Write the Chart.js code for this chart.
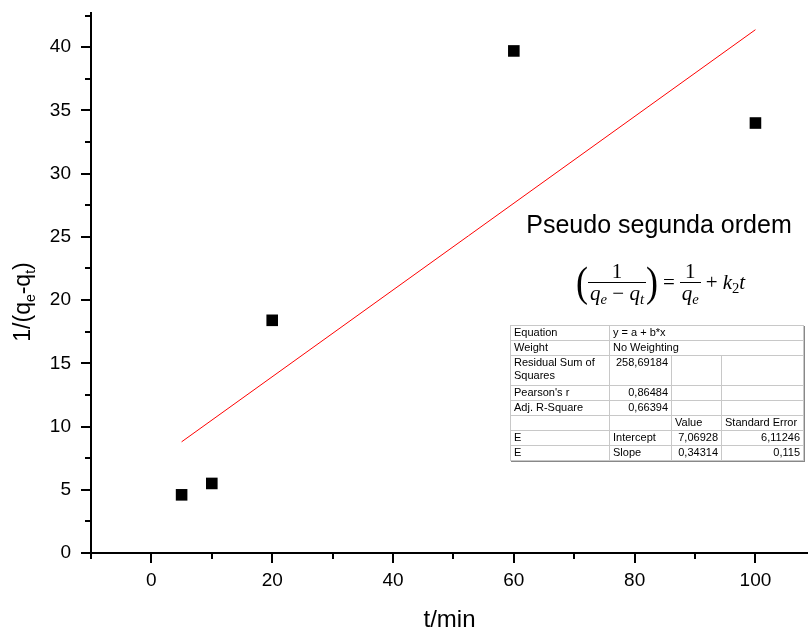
<!DOCTYPE html>
<html>
<head>
<meta charset="utf-8">
<script src="https://cdn.jsdelivr.net/npm/chart.js@4.4.0/dist/chart.umd.min.js"></script>
<style>
body { margin: 0; background: #fff; }
#wrap { position: relative; width: 808px; height: 632px; }
#fitTitle {
    position: absolute; left: 510px; top: 212px; width: 298px;
    text-align: center; white-space: nowrap;
    font: 25px Arial, "Liberation Sans", sans-serif; line-height: 25px;
}
#formula {
    position: absolute; left: 576px; top: 259px; height: 46px;
    display: flex; align-items: center; white-space: nowrap;
    font-family: "Liberation Serif", serif; font-size: 21px;
}
#formula .paren { font-size: 36px; transform: scaleY(1.15); line-height: 40px; }
#formula .frac { display: inline-flex; flex-direction: column; text-align: center; line-height: 21px; }
#formula .den { border-top: 1.6px solid #000; padding: 0 2px; }
#formula .op { margin: 0 5px; }
#formula sub { font-size: 0.7em; vertical-align: -0.3em; font-style: italic; line-height: 0; }
#fitTable {
    position: absolute; left: 510px; top: 325px; width: 293px;
    border-collapse: collapse; table-layout: fixed;
    font: 11px Arial, "Liberation Sans", sans-serif;
    border: 1px solid #444; box-shadow: 1px 1px 0 #888;
}
#fitTable td {
    border: 1px solid #c8c8c8; padding: 0 3px; height: 14px; line-height: 13px;
    vertical-align: top; overflow: hidden; white-space: nowrap;
}
#fitTable td.wrap { white-space: normal; }
#fitTable td.n { text-align: right; }
#fitTable tr.tall td { height: 29px; }
</style>
</head>
<body>
<div id="wrap">
<canvas id="chart" width="808" height="632"></canvas>
<div id="fitTitle">Pseudo segunda ordem</div>
<div id="formula">
  <span class="paren">(</span>
  <span class="frac"><span>1</span><span class="den"><i>q</i><sub>e</sub> − <i>q</i><sub>t</sub></span></span>
  <span class="paren">)</span>
  <span class="op">=</span>
  <span class="frac"><span>1</span><span class="den"><i>q</i><sub>e</sub></span></span>
  <span class="op">+</span>
  <span><i>k</i><sub style="font-style:normal">2</sub><i>t</i></span>
</div>
<table id="fitTable">
  <colgroup><col style="width:99px"><col style="width:62px"><col style="width:50px"><col style="width:82px"></colgroup>
  <tr><td>Equation</td><td colspan="3">y = a + b*x</td></tr>
  <tr><td>Weight</td><td colspan="3">No Weighting</td></tr>
  <tr class="tall"><td class="wrap">Residual Sum of Squares</td><td class="n">258,69184</td><td></td><td></td></tr>
  <tr><td>Pearson's r</td><td class="n">0,86484</td><td></td><td></td></tr>
  <tr><td>Adj. R-Square</td><td class="n">0,66394</td><td></td><td></td></tr>
  <tr><td></td><td></td><td>Value</td><td>Standard Error</td></tr>
  <tr><td>E</td><td>Intercept</td><td class="n">7,06928</td><td class="n">6,11246</td></tr>
  <tr><td>E</td><td>Slope</td><td class="n">0,34314</td><td class="n">0,115</td></tr>
</table>
</div>
<script>
// measured points
const pointsX = [5, 10, 20, 60, 100];
const pointsY = [4.6, 5.5, 18.4, 39.7, 34.0];

// linear fit line ends (a = 7.06928, b = 0.34314)
const fitX = [5, 100];
const fitY = [8.79, 41.38];

const xTicks = [0, 20, 40, 60, 80, 100];
const xMinorTicks = [-10, 10, 30, 50, 70, 90];
const yTicks = [0, 5, 10, 15, 20, 25, 30, 35, 40];
const yMinorTicks = [2.5, 7.5, 12.5, 17.5, 22.5, 27.5, 32.5, 37.5, 42.5];

const sans = 'Arial, "Liberation Sans", sans-serif';

function main() {
    buildChart();
}

// tick marks (major / minor) and the y title with subscripts
const axisExtras = {
    id: 'axisExtras',
    afterDraw(chart) {
        const ctx = chart.ctx;
        const xs = chart.scales.x, ys = chart.scales.y;
        const area = chart.chartArea;
        ctx.save();
        ctx.strokeStyle = '#000';
        ctx.lineWidth = 2;
        ctx.beginPath();
        xTicks.forEach(v => {
            let px = Math.round(xs.getPixelForValue(v));
            ctx.moveTo(px, area.bottom);
            ctx.lineTo(px, area.bottom + 10);
        });
        xMinorTicks.forEach(v => {
            let px = Math.round(xs.getPixelForValue(v));
            ctx.moveTo(px, area.bottom);
            ctx.lineTo(px, area.bottom + 6);
        });
        yTicks.forEach(v => {
            let py = Math.round(ys.getPixelForValue(v));
            ctx.moveTo(area.left, py);
            ctx.lineTo(area.left - 10, py);
        });
        yMinorTicks.forEach(v => {
            let py = Math.round(ys.getPixelForValue(v));
            ctx.moveTo(area.left, py);
            ctx.lineTo(area.left - 6, py);
        });
        ctx.stroke();

        // y axis title 1/(qe-qt)
        let parts = [['1/(q', false], ['e', true], ['-q', false], ['t', true], [')', false]];
        let big = '23px ' + sans, small = '14px ' + sans;
        let total = 0;
        parts.forEach(p => {
            ctx.font = p[1] ? small : big;
            total += ctx.measureText(p[0]).width;
        });
        ctx.translate(30, (area.top + area.bottom) / 2 + 19);
        ctx.rotate(-Math.PI / 2);
        ctx.fillStyle = '#000';
        ctx.textBaseline = 'alphabetic';
        let pos = -total / 2;
        parts.forEach(p => {
            ctx.font = p[1] ? small : big;
            ctx.fillText(p[0], pos, p[1] ? 5 : 0);
            pos += ctx.measureText(p[0]).width;
        });
        ctx.restore();
    }
};

function buildChart() {
    let points = pointsX.map((x, i) => ({ x: x, y: pointsY[i] }));
    let fit = fitX.map((x, i) => ({ x: x, y: fitY[i] }));

    var ctx = document.getElementById('chart').getContext('2d');
    var chart = new Chart(ctx, {
        type: 'scatter',
        data: {
            datasets: [{
                type: 'line',
                data: fit,
                borderColor: '#ff0000',
                borderWidth: 1,
                pointRadius: 0,
                fill: false
            }, {
                data: points,
                pointStyle: 'rect',
                pointRadius: 8.2,
                backgroundColor: '#000',
                borderWidth: 0
            }]
        },
        options: {
            responsive: false,
            animation: false,
            layout: { autoPadding: false, padding: { top: 13, right: 0, left: 0, bottom: 0 } },
            plugins: {
                legend: { display: false },
                tooltip: { enabled: false }
            },
            scales: {
                x: {
                    type: 'linear',
                    min: -10,
                    max: 108.7,
                    afterBuildTicks: s => { s.ticks = xTicks.map(v => ({ value: v })); },
                    afterFit: s => { s.height = 79; s.paddingLeft = 0; s.paddingRight = 0; },
                    grid: { drawOnChartArea: false, drawTicks: true, tickLength: 10, color: 'rgba(0,0,0,0)' },
                    border: { display: true, color: '#000', width: 2 },
                    ticks: { color: '#000', font: { family: sans, size: 19 }, padding: 6, maxRotation: 0 },
                    title: { display: true, text: 't/min', color: '#000', font: { family: sans, size: 24 }, padding: { top: 0, bottom: -3 } }
                },
                y: {
                    type: 'linear',
                    min: 0,
                    max: 42.7,
                    afterBuildTicks: s => { s.ticks = yTicks.map(v => ({ value: v })); },
                    afterFit: s => { s.width = 91; s.paddingTop = 0; s.paddingBottom = 0; },
                    grid: { drawOnChartArea: false, drawTicks: true, tickLength: 10, color: 'rgba(0,0,0,0)' },
                    border: { display: true, color: '#000', width: 2 },
                    ticks: { color: '#000', font: { family: sans, size: 19 }, padding: 10 }
                }
            }
        },
        plugins: [axisExtras]
    });
}

main();
</script>
</body>
</html>
